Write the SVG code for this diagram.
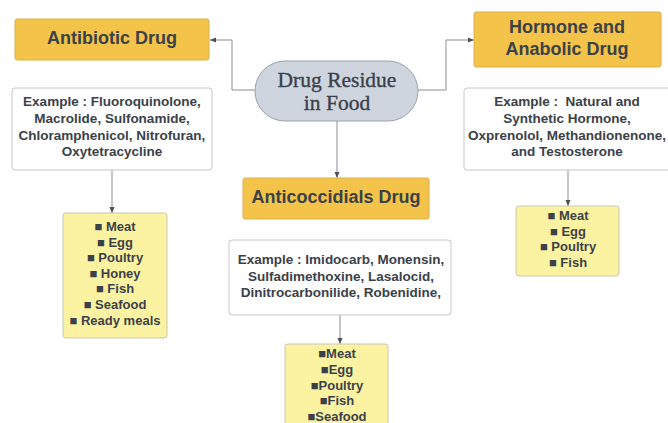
<svg xmlns="http://www.w3.org/2000/svg" width="668" height="423" viewBox="0 0 668 423">
<defs>
<marker id="ah" viewBox="0 0 6 6" refX="6" refY="3" markerWidth="6" markerHeight="6" orient="auto" markerUnits="userSpaceOnUse">
<path d="M0,0.5 L6,3 L0,5.5 Z" fill="#4a4f57"/>
</marker>
<style>
.title{fill:#f3c34a;stroke:#d9b150;stroke-width:1}
.ex{fill:#ffffff;stroke:#c4c6ca;stroke-width:1}
.food{fill:#fbf3a2;stroke:#c8c6b2;stroke-width:1}
.pill{fill:#cfd5df;stroke:#9ba1aa;stroke-width:1}
.t{font-family:"Liberation Sans",Arial,sans-serif;font-weight:bold;fill:#3b4149;text-anchor:middle}
.h{font-size:18px}
.e{font-size:13.5px}
.f{font-size:13px}
.s{font-family:"Liberation Serif","Times New Roman",serif;font-size:21.5px;fill:#3b4149;stroke:#3b4149;stroke-width:0.35;text-anchor:middle}
.c{fill:none;stroke:#8a8d92;stroke-width:1}
</style>
</defs>
<rect width="668" height="423" fill="#ffffff"/>
<g id="connectors">
<path class="c" d="M255,90 H232 V40 H210" marker-end="url(#ah)"/>
<path class="c" d="M418,90 H446 V40 H474" marker-end="url(#ah)"/>
<path class="c" d="M337,121 V178" marker-end="url(#ah)"/>
<path class="c" d="M112,170 V213" marker-end="url(#ah)"/>
<path class="c" d="M568,170 V206" marker-end="url(#ah)"/>
<path class="c" d="M340,315 V344" marker-end="url(#ah)"/>
</g>
<g id="center">
<rect class="pill" x="255" y="61" width="163" height="60" rx="30"/>
<text class="s" x="337" y="87">Drug Residue</text>
<text class="s" x="337" y="110">in Food</text>
</g>
<g id="antibiotic">
<rect class="title" x="15" y="19" width="194" height="41" rx="2"/>
<text class="t h" x="112" y="44">Antibiotic Drug</text>
</g>
<g id="antibiotic-example">
<rect class="ex" x="12" y="88" width="200" height="82" rx="3"/>
<text class="t e" x="112" y="106">Example : Fluoroquinolone,</text>
<text class="t e" x="112" y="123">Macrolide, Sulfonamide,</text>
<text class="t e" x="112" y="140">Chloramphenicol, Nitrofuran,</text>
<text class="t e" x="112" y="156">Oxytetracycline</text>
</g>
<g id="antibiotic-food">
<rect class="food" x="63" y="213" width="104" height="125" rx="3"/>
<text class="t f" x="115" y="231">■ Meat</text>
<text class="t f" x="115" y="247">■ Egg</text>
<text class="t f" x="115" y="262">■ Poultry</text>
<text class="t f" x="115" y="278">■ Honey</text>
<text class="t f" x="115" y="293">■ Fish</text>
<text class="t f" x="115" y="309">■ Seafood</text>
<text class="t f" x="115" y="325">■ Ready meals</text>
</g>
<g id="hormone">
<rect class="title" x="474" y="12" width="187" height="55" rx="2"/>
<text class="t h" x="567" y="33">Hormone and</text>
<text class="t h" x="567" y="55">Anabolic Drug</text>
</g>
<g id="hormone-example">
<rect class="ex" x="464" y="88" width="210" height="82" rx="3"/>
<text class="t e" x="567" y="106" xml:space="preserve">Example :  Natural and</text>
<text class="t e" x="567" y="123">Synthetic Hormone,</text>
<text class="t e" x="567" y="140">Oxprenolol, Methandionenone,</text>
<text class="t e" x="567" y="156">and Testosterone</text>
</g>
<g id="hormone-food">
<rect class="food" x="516" y="206" width="103" height="70" rx="3"/>
<text class="t f" x="568" y="220">■ Meat</text>
<text class="t f" x="568" y="236">■ Egg</text>
<text class="t f" x="568" y="251">■ Poultry</text>
<text class="t f" x="568" y="267">■ Fish</text>
</g>
<g id="anticoccidial">
<rect class="title" x="243" y="178" width="186" height="41" rx="2"/>
<text class="t h" x="336" y="203">Anticoccidials Drug</text>
</g>
<g id="anticoccidial-example">
<rect class="ex" x="229" y="240" width="222" height="75" rx="3"/>
<text class="t e" x="341" y="264">Example : Imidocarb, Monensin,</text>
<text class="t e" x="341" y="281">Sulfadimethoxine, Lasalocid,</text>
<text class="t e" x="341" y="297">Dinitrocarbonilide, Robenidine,</text>
</g>
<g id="anticoccidial-food">
<rect class="food" x="285" y="344" width="103" height="90" rx="3"/>
<text class="t f" x="337" y="358">■Meat</text>
<text class="t f" x="337" y="374">■Egg</text>
<text class="t f" x="337" y="390">■Poultry</text>
<text class="t f" x="337" y="405">■Fish</text>
<text class="t f" x="337" y="421">■Seafood</text>
</g>
</svg>
